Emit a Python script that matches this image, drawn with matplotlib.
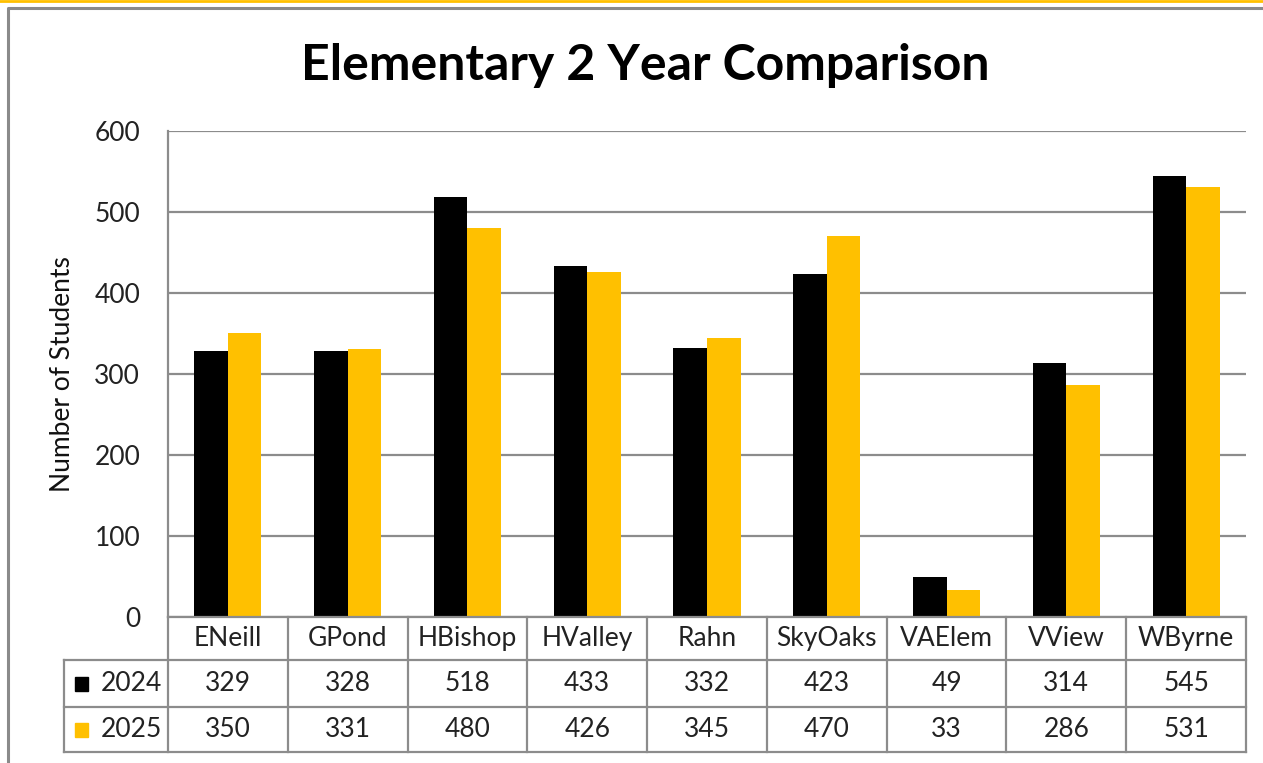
import matplotlib.pyplot as plt
from matplotlib.transforms import blended_transform_factory
from matplotlib.lines import Line2D
from matplotlib.patches import Rectangle

# data
schools = ["ENeill", "GPond", "HBishop", "HValley", "Rahn", "SkyOaks", "VAElem", "VView", "WByrne"]
years = ["2024", "2025"]
y2024 = [329, 328, 518, 433, 332, 423, 49, 314, 545]
y2025 = [350, 331, 480, 426, 345, 470, 33, 286, 531]
colors = ["#000000", "#FFC000"]
grid_col = "#8c8c8c"
txt_col = "#222222"
fs = 19

plt.rcParams["font.family"] = ["Lato", "DejaVu Sans"]

W, H = 1263, 763
fig = plt.figure(figsize=(W / 100, H / 100), dpi=100)

# plot area in pixel terms
left, right, top, zero = 168, 1246, 131, 617
ax = fig.add_axes([left / W, 1 - zero / H, (right - left) / W, (zero - top) / H])

x = list(range(len(schools)))
bw = 0.28
ax.bar([i - bw / 2 for i in x], y2024, width=bw, color=colors[0], zorder=3)
ax.bar([i + bw / 2 for i in x], y2025, width=bw, color=colors[1], zorder=3)

ax.set_xlim(-0.5, len(schools) - 0.5)
ax.set_ylim(0, 600)
ax.set_yticks(range(0, 601, 100))
ax.set_xticks([])
ax.tick_params(axis="y", length=0, pad=20, labelsize=fs, labelcolor=txt_col)
ax.grid(axis="y", color=grid_col, linewidth=1.6, zorder=0)
for s in ["top", "right", "bottom"]:
    ax.spines[s].set_visible(False)
ax.spines["left"].set_color(grid_col)
ax.spines["left"].set_linewidth(1.6)

ax.set_ylabel("Number of Students", fontsize=19, color="#111111")
ax.yaxis.set_label_coords(-0.086, 0.5)

# data table under the chart
tr = blended_transform_factory(ax.transData, ax.transAxes)
ph = zero - top
y_hdr = -(660 - zero) / ph
y_r1 = -(707 - zero) / ph
y_r2 = -(752 - zero) / ph
x_left = -0.5 - (left - 64) / ((right - left) / len(schools))
xr = len(schools) - 0.5


def line(xs, ys):
    ax.add_line(Line2D(xs, ys, transform=tr, color=grid_col, linewidth=1.6,
                       clip_on=False, zorder=4))


line([-0.5, xr], [0, 0])
for yy in [y_hdr, y_r1, y_r2]:
    line([x_left, xr], [yy, yy])
for k in range(len(schools) + 1):
    line([k - 0.5, k - 0.5], [0, y_r2])
line([x_left, x_left], [y_hdr, y_r2])

for i, name in enumerate(schools):
    ax.text(i, y_hdr / 2, name, transform=tr, ha="center", va="center",
            fontsize=fs, color=txt_col)
    ax.text(i, (y_hdr + y_r1) / 2, str(y2024[i]), transform=tr, ha="center",
            va="center", fontsize=fs, color=txt_col)
    ax.text(i, (y_r1 + y_r2) / 2, str(y2025[i]), transform=tr, ha="center",
            va="center", fontsize=fs, color=txt_col)

for j, (yr, c) in enumerate(zip(years, colors)):
    yc = (y_hdr + y_r1) / 2 if j == 0 else (y_r1 + y_r2) / 2
    fig.patches.append(Rectangle((75 / W, 1 - (yc * -ph + zero + 7) / H), 13 / W, 14 / H,
                                 transform=fig.transFigure, color=c))
    ax.text(-0.5 - 6 / 119.8, yc, yr, transform=tr, ha="right", va="center",
            fontsize=fs, color=txt_col)

# title
fig.text(645 / W, 1 - 65 / H, "Elementary 2 Year Comparison", ha="center",
         va="center", fontsize=36, fontweight="bold", color="#000000")

# outer frame lines
fig.add_artist(Line2D([0, 1], [1 - 1 / H, 1 - 1 / H], transform=fig.transFigure,
                      color="#FFC000", linewidth=2))
fig.add_artist(Line2D([8 / W, 8 / W, 1], [0, 1 - 7.5 / H, 1 - 7.5 / H],
                      transform=fig.transFigure, color="#8a8a8a", linewidth=2.2))

fig.savefig("out.png", dpi=100)
